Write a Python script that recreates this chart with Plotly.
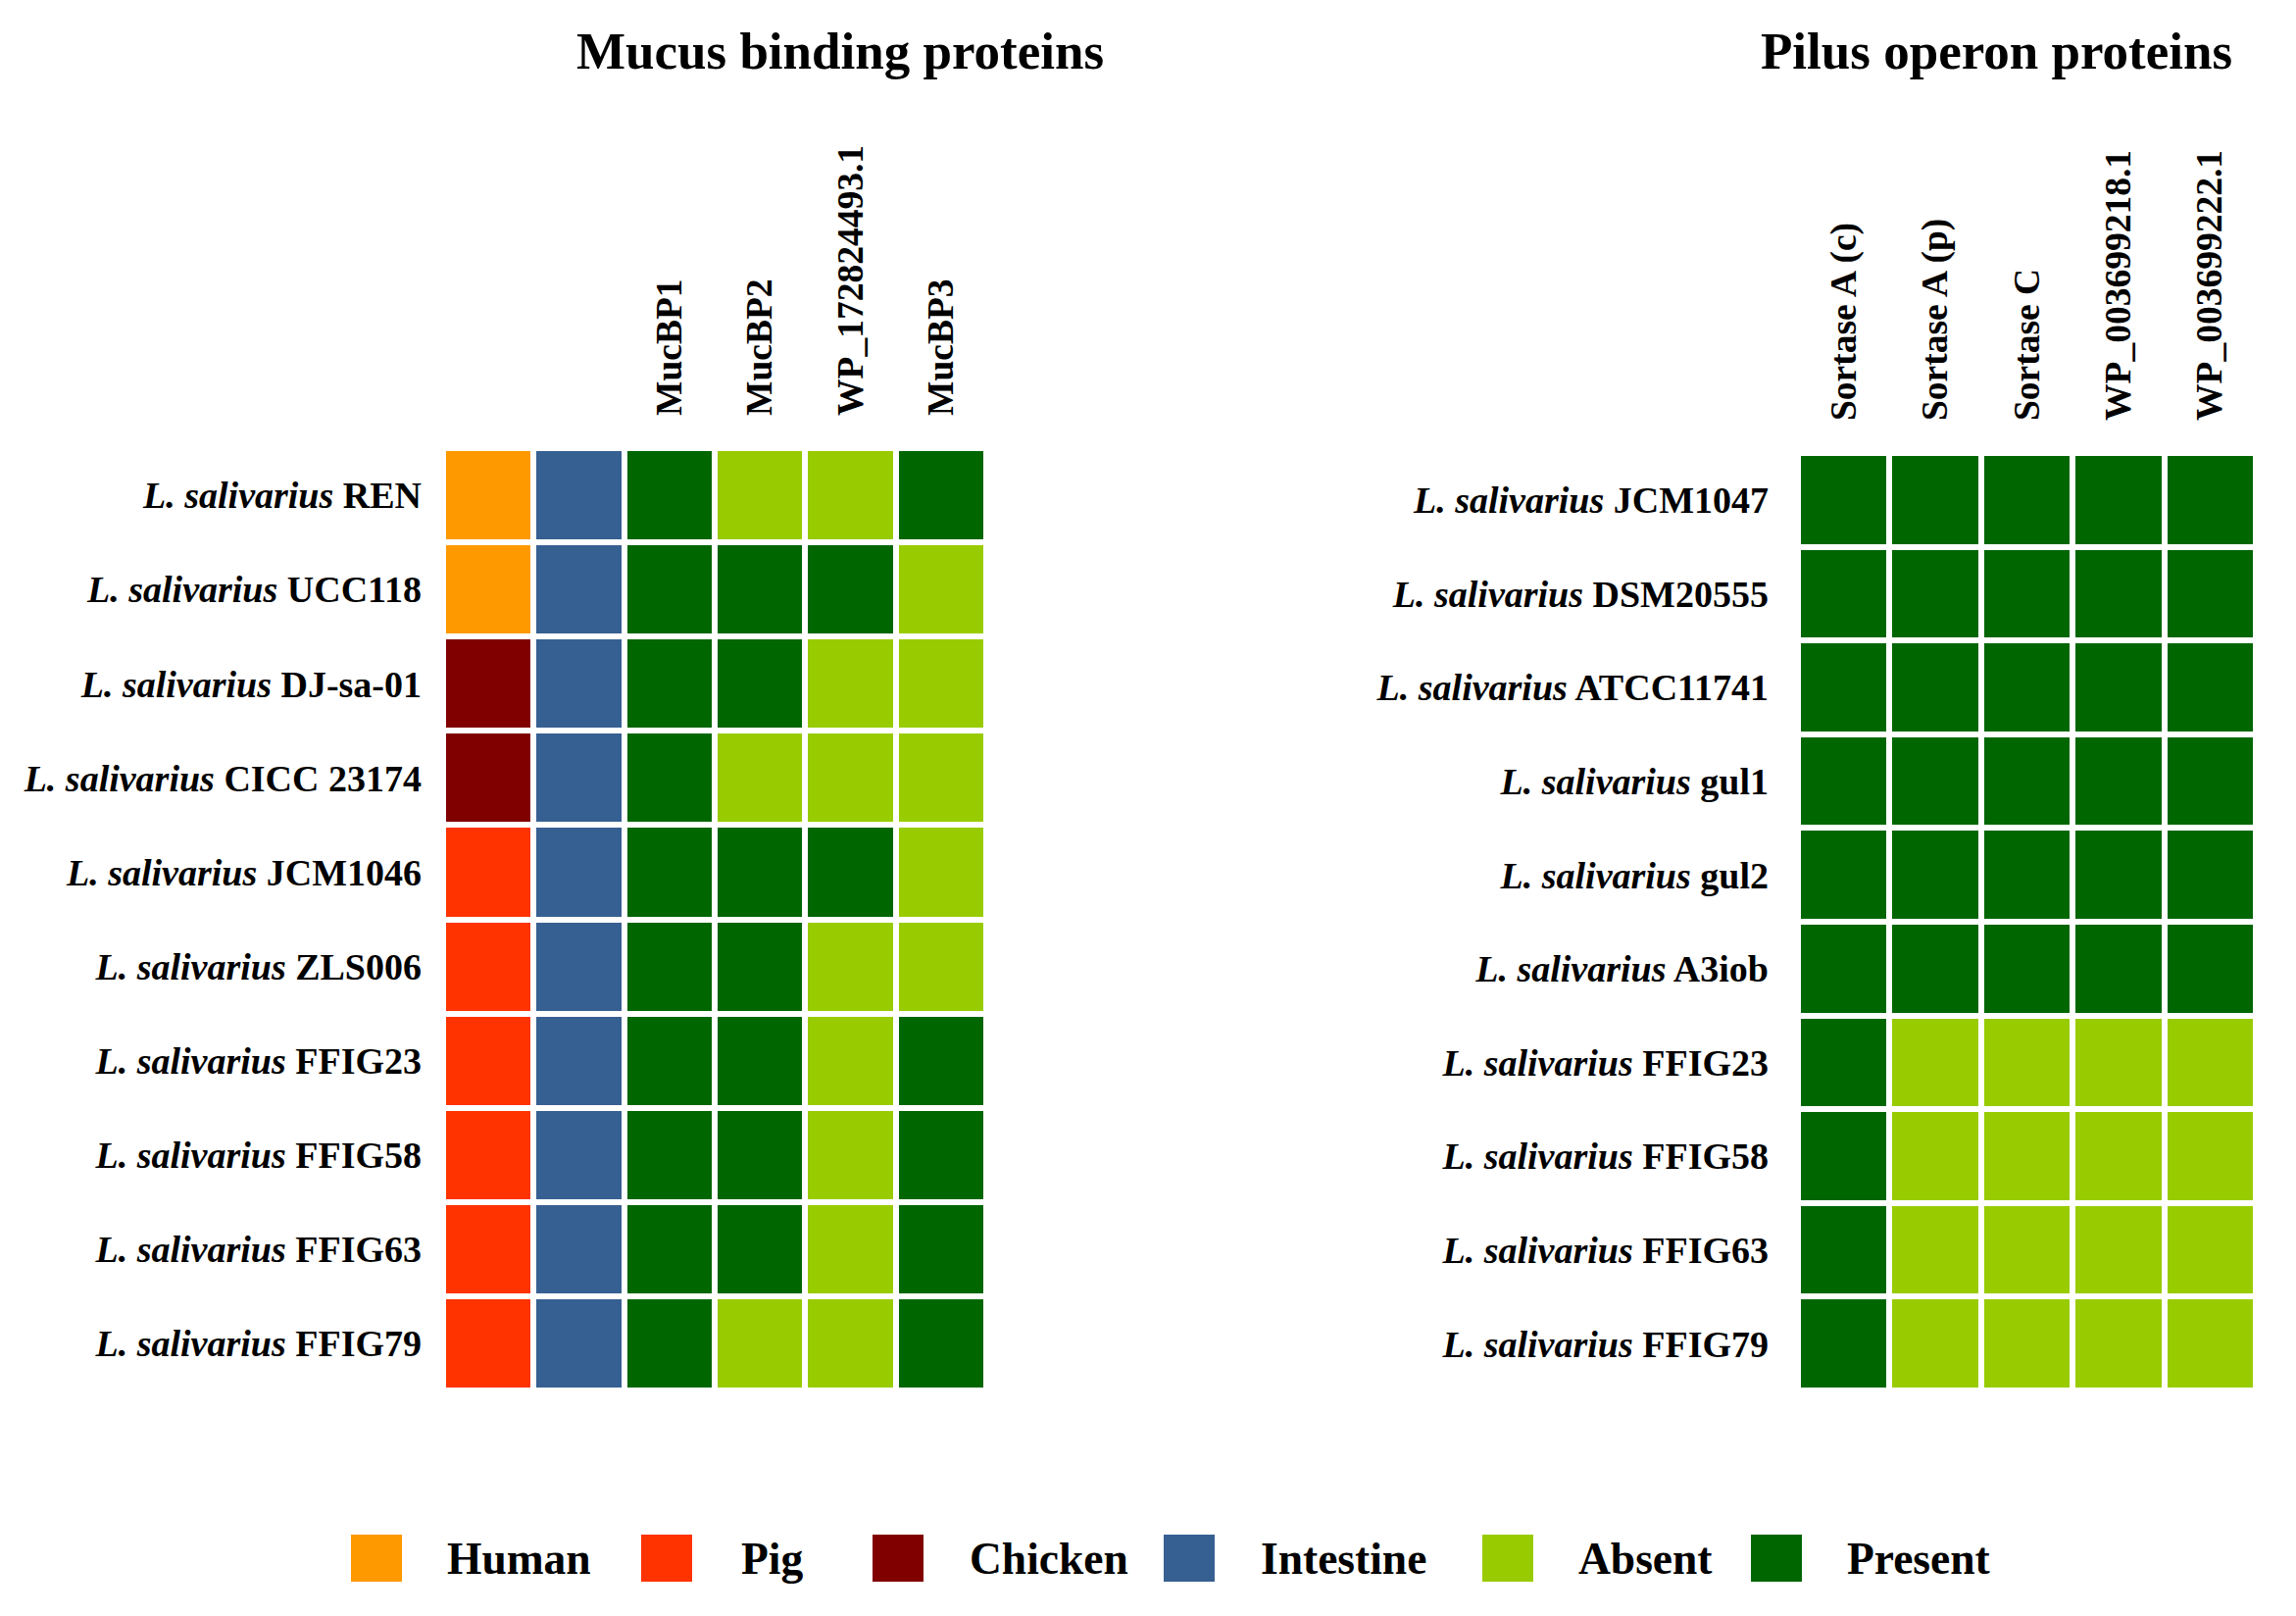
import plotly.graph_objects as go

# ---------------- data ----------------
categories = ["Human", "Pig", "Chicken", "Intestine", "Absent", "Present"]
cat_colors = ["#FF9900", "#FF3300", "#800000", "#376092", "#99CC00", "#006600"]

mucus_strains = ["REN", "UCC118", "DJ-sa-01", "CICC 23174", "JCM1046",
                 "ZLS006", "FFIG23", "FFIG58", "FFIG63", "FFIG79"]
mucus_columns = ["", " ", "MucBP1", "MucBP2", "WP_172824493.1", "MucBP3"]
mucus_host = ["Human", "Human", "Chicken", "Chicken", "Pig",
              "Pig", "Pig", "Pig", "Pig", "Pig"]
mucus_site = ["Intestine"] * 10
mucbp1 = ["Present"] * 10
mucbp2 = ["Absent", "Present", "Present", "Absent", "Present",
          "Present", "Present", "Present", "Present", "Absent"]
wp_172824493 = ["Absent", "Present", "Absent", "Absent", "Present",
                "Absent", "Absent", "Absent", "Absent", "Absent"]
mucbp3 = ["Present", "Absent", "Absent", "Absent", "Absent",
          "Absent", "Present", "Present", "Present", "Present"]

pilus_strains = ["JCM1047", "DSM20555", "ATCC11741", "gul1", "gul2",
                 "A3iob", "FFIG23", "FFIG58", "FFIG63", "FFIG79"]
pilus_columns = ["Sortase A (c)", "Sortase A (p)", "Sortase C",
                 "WP_003699218.1", "WP_003699222.1"]
sortase_a_c = ["Present"] * 10
sortase_a_p = ["Present"] * 6 + ["Absent"] * 4
sortase_c = ["Present"] * 6 + ["Absent"] * 4
wp_003699218 = ["Present"] * 6 + ["Absent"] * 4
wp_003699222 = ["Present"] * 6 + ["Absent"] * 4

# ---------------- build ----------------
code = {c: i for i, c in enumerate(categories)}
n = len(categories)
colorscale = []
for i, c in enumerate(cat_colors):
    colorscale.append([i / n, c])
    colorscale.append([(i + 1) / n, c])

mucus_cols_data = [mucus_host, mucus_site, mucbp1, mucbp2, wp_172824493, mucbp3]
pilus_cols_data = [sortase_a_c, sortase_a_p, sortase_c, wp_003699218, wp_003699222]

def zmat(cols):
    return [[code[col[r]] for col in cols] for r in range(len(cols[0]))]

def label(s):
    return "<b><i>L. salivarius</i> " + s + "</b>"

FONT = "Liberation Serif"

fig = go.Figure()
fig.add_trace(go.Heatmap(
    z=zmat(mucus_cols_data), x=list(range(len(mucus_columns))),
    y=list(range(len(mucus_strains))),
    colorscale=colorscale, zmin=-0.5, zmax=n - 0.5, showscale=False,
    xgap=6, ygap=6, hoverinfo="skip", xaxis="x", yaxis="y"))
fig.add_trace(go.Heatmap(
    z=zmat(pilus_cols_data), x=list(range(len(pilus_columns))),
    y=list(range(len(pilus_strains))),
    colorscale=colorscale, zmin=-0.5, zmax=n - 0.5, showscale=False,
    xgap=6, ygap=6, hoverinfo="skip", xaxis="x2", yaxis="y2"))

W, H = 2342, 1648
OFF = 8  # page body margin compensation

def px(v):
    return (v - OFF) / W

def py(v):
    return 1 - (v - OFF) / H

common_x = dict(side="top", tickangle=-90, showgrid=False, zeroline=False,
                showline=False, ticks="", ticklabelstandoff=32, automargin=False,
                tickfont=dict(family=FONT, size=37.5, color="black"))
common_y = dict(autorange="reversed", showgrid=False, zeroline=False,
                showline=False, ticks="", automargin=False,
                tickfont=dict(family=FONT, size=38, color="black"))

fig.update_layout(
    template="none",
    width=W, height=H, margin=dict(l=0, r=0, t=0, b=0, autoexpand=False),
    paper_bgcolor="white", plot_bgcolor="white", showlegend=False,
    xaxis=dict(domain=[px(452), px(1006)], anchor="y",
               tickvals=list(range(len(mucus_columns))),
               ticktext=["<b>" + c + "</b>" for c in mucus_columns], **common_x),
    yaxis=dict(domain=[py(1418), py(457)], anchor="x",
               tickvals=list(range(len(mucus_strains))),
               ticktext=[label(s) for s in mucus_strains],
               ticklabelstandoff=21, **common_y),
    xaxis2=dict(domain=[px(1834), px(2301)], anchor="y2",
                tickvals=list(range(len(pilus_columns))),
                ticktext=["<b>" + c + "</b>" for c in pilus_columns], **common_x),
    yaxis2=dict(domain=[py(1418), py(462)], anchor="x2",
                tickvals=list(range(len(pilus_strains))),
                ticktext=[label(s) for s in pilus_strains],
                ticklabelstandoff=29, **common_y),
)

# panel titles
fig.add_annotation(text="<b>Mucus binding proteins</b>", x=px(857), y=py(52),
                   xref="paper", yref="paper", xanchor="center", yanchor="middle",
                   showarrow=False, font=dict(family=FONT, size=53, color="black"))
fig.add_annotation(text="<b>Pilus operon proteins</b>", x=px(2036), y=py(52),
                   xref="paper", yref="paper", xanchor="center", yanchor="middle",
                   showarrow=False, font=dict(family=FONT, size=53, color="black"))

# legend (drawn as layout shapes + text)
legend_square_left = [358, 654, 890, 1187, 1512, 1786]
legend_text_left = [454, 754, 987, 1284, 1608, 1882]
for cat, col, sx, tx in zip(categories, cat_colors, legend_square_left, legend_text_left):
    fig.add_shape(type="rect", xref="paper", yref="paper",
                  x0=px(sx), x1=px(sx + 52), y0=py(1613), y1=py(1565),
                  fillcolor=col, line=dict(width=0))
    fig.add_annotation(text="<b>" + cat + "</b>", x=px(tx), y=py(1589),
                       xref="paper", yref="paper", xanchor="left", yanchor="middle",
                       showarrow=False, font=dict(family=FONT, size=45.5, color="black"))

fig.write_html("out.html")
